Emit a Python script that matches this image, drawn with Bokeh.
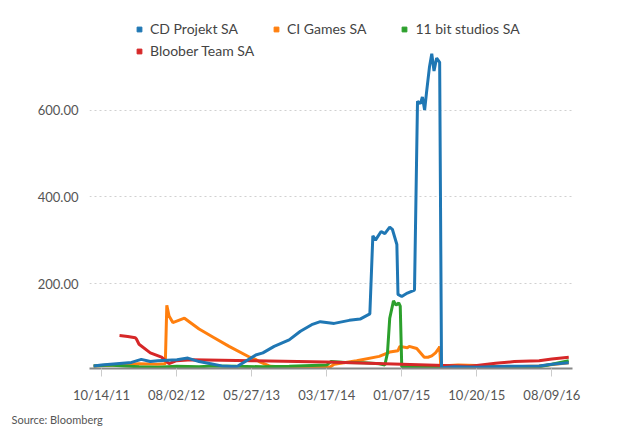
from bokeh.plotting import figure
from bokeh.models import Legend, LegendItem, Title, FixedTicker, NumeralTickFormatter, Range1d
from bokeh.embed import file_html
from bokeh.resources import INLINE

tick_pos = [0, 200, 400, 600, 800, 1000, 1200]
tick_labels = ["10/14/11", "08/02/12", "05/27/13", "03/17/14", "01/07/15", "10/20/15", "08/09/16"]

cdp_x = [-21, 0, 40, 80, 106, 130, 150, 201, 230, 260, 291, 320, 360, 411, 430, 460, 500, 530, 560, 583, 620, 660, 689, 715, 723, 730, 745, 755, 768, 775, 787, 790, 800, 815, 834, 842, 850, 855, 861, 866, 874, 880, 886, 893, 901, 906, 940, 1000, 1080, 1166, 1200, 1245]
cdp_y = [10, 12, 15, 18, 25, 20, 22, 24, 28, 20, 15, 10, 8, 35, 40, 55, 70, 90, 105, 112, 108, 115, 118, 130, 310, 300, 320, 315, 330, 325, 290, 175, 170, 178, 185, 620, 615, 630, 600, 640, 700, 730, 690, 720, 710, 6, 8, 7, 9, 10, 14, 17]

cig_x = [-21, 40, 100, 150, 170, 174, 180, 190, 221, 260, 300, 340, 395, 411, 420, 450, 500, 560, 610, 620, 680, 740, 768, 790, 795, 815, 820, 840, 860, 870, 880, 890, 900, 901, 904, 950, 1000, 1050, 1100, 1166, 1245]
cig_y = [10, 12, 15, 14, 15, 150, 125, 110, 120, 95, 75, 55, 30, 25, 20, 9, 7, 7, 8, 14, 22, 32, 42, 45, 55, 52, 55, 50, 30, 30, 33, 40, 52, 55, 10, 12, 11, 9, 8, 10, 17]

gb_x = [-21, 20, 60, 100, 150, 200, 260, 300, 360, 430, 500, 560, 600, 611, 650, 700, 740, 755, 762, 768, 778, 785, 792, 796, 800, 850, 900, 1000, 1100, 1166, 1200, 1245]
gb_y = [10, 12, 10, 8, 7, 9, 8, 10, 9, 8, 9, 11, 12, 20, 18, 17, 15, 12, 40, 120, 160, 150, 155, 148, 8, 9, 7, 8, 7, 8, 14, 22]

bt_x = [48, 70, 90, 93, 100, 130, 160, 180, 200, 240, 400, 600, 800, 980, 1000, 1050, 1100, 1166, 1200, 1245]
bt_y = [80, 78, 75, 72, 60, 40, 30, 15, 22, 24, 22, 19, 14, 9, 11, 16, 20, 22, 26, 30]

font = "Lato"
colors = ["#1f77b4", "#ff7f0e", "#2ca02c", "#d62728"]
names = ["CD Projekt SA", "CI Games SA", "11 bit studios SA", "Bloober Team SA"]

p = figure(width=624, height=430, output_backend="svg", toolbar_location=None,
           x_range=Range1d(-32, 1255), y_range=Range1d(4, 818),
           min_border_left=89, min_border_right=52, min_border_bottom=49, min_border_top=15)
p.outline_line_color = None
p.xgrid.grid_line_color = None
p.ygrid.grid_line_color = "#d0d0d0"
p.ygrid.grid_line_dash = "2 3"

p.yaxis.ticker = FixedTicker(ticks=[200, 400, 600])
p.yaxis.formatter = NumeralTickFormatter(format="0.00")
p.yaxis.axis_line_color = None
p.yaxis.major_tick_line_color = None
p.yaxis.minor_tick_line_color = None
p.xaxis.ticker = FixedTicker(ticks=tick_pos)
p.xaxis.major_label_overrides = {t: l for t, l in zip(tick_pos, tick_labels)}
p.xaxis.axis_line_color = "#888888"
p.xaxis.axis_line_width = 2
p.xaxis.major_tick_line_color = "#cccccc"
p.xaxis.major_tick_in = 0
p.xaxis.major_tick_out = 8
p.xaxis.minor_tick_line_color = None
p.xaxis.major_label_standoff = 10
for ax in (p.xaxis, p.yaxis):
    ax.major_label_text_font = font
    ax.major_label_text_font_size = "13px"
    ax.major_label_text_color = "#555555"

for xs, ys, c in [(cig_x, cig_y, colors[1]), (gb_x, gb_y, colors[2]), (bt_x, bt_y, colors[3]), (cdp_x, cdp_y, colors[0])]:
    p.line(xs, ys, line_color=c, line_width=3)

items = []
for n, c in zip(names, colors):
    r = p.scatter([-5000], [-5000], marker="square", size=12, fill_color=c, line_color=c)
    items.append(LegendItem(label=n, renderers=[r]))

common = dict(orientation="horizontal", label_text_font=font, label_text_font_size="14px",
              label_text_color="#444444", glyph_width=12, glyph_height=12, label_standoff=5,
              label_height=16, border_line_color=None, background_fill_alpha=0, padding=0, margin=0)
leg1 = Legend(items=items[:3], location=(44, 331), spacing=32, **common)
leg2 = Legend(items=items[3:], location=(44, 309), spacing=32, **common)
p.add_layout(leg1, "center")
p.add_layout(leg2, "center")

src = Title(text="Source: Bloomberg", align="left", offset=-78, text_font=font,
            text_font_size="11px", text_color="#555555", text_font_style="normal")
p.add_layout(src, "below")

open("out.html", "w").write(file_html(p, INLINE))
